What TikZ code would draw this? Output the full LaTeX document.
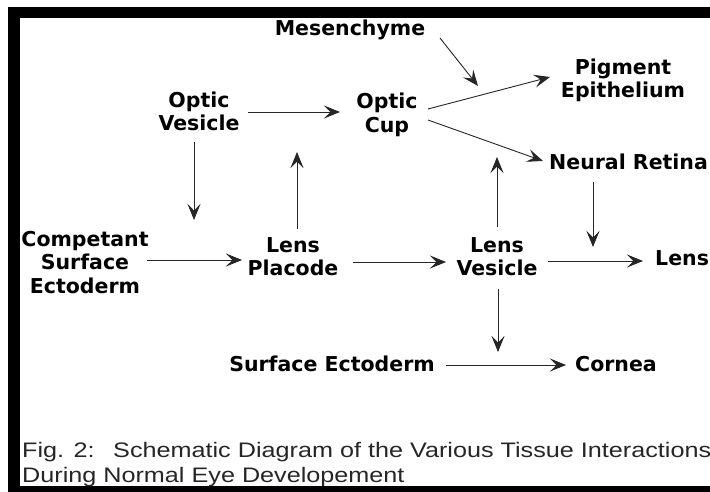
\documentclass[tikz,border=0pt]{standalone}
\usepackage{fontspec}
\setmainfont{DejaVu Sans}
\newfontfamily\capf[FakeStretch=1.2]{Liberation Sans}
\usetikzlibrary{arrows.meta,calc}
\begin{document}
\begin{tikzpicture}[x=1pt,y=-1pt,
  lbl/.style={inner sep=0pt,align=center,font=\bfseries\fontsize{20.5}{23.5}\selectfont,text=black},
  capt/.style={inner sep=0pt,anchor=base west,font=\capf\fontsize{21}{25}\selectfont,text=black!85},
  arr/.style={line width=0.9pt,draw=black!85,-{Stealth[length=16pt,width=13pt,inset=6.5pt]}}]
\useasboundingbox (0,0) rectangle (710,491);
\fill[white] (0,0) rectangle (710,491);
% frame
\fill[black] (8,7) rectangle (730,18);
\fill[black] (8,7) rectangle (20,500);
\fill[black] (8,486) rectangle (730,500);
% nodes
\node[lbl] (mes) at (350,29.6) {Mesenchyme};
\node[lbl] (ov) at (199,111.2) {Optic\\Vesicle};
\node[lbl] (oc) at (387,114.6) {Optic\\Cup};
\node[lbl] (pig) at (623,80.2) {Pigment\\Epithelium};
\node[lbl,anchor=west] (nr) at (549,161.7) {Neural Retina};
\node[lbl] (cse) at (85,262.5) {Competant\\Surface\\Ectoderm};
\node[lbl] (lp) at (293,256.5) {Lens\\Placode};
\node[lbl] (lv) at (497,256.5) {Lens\\Vesicle};
\node[lbl,anchor=west] (lens) at (655,258.5) {Lens};
\node[lbl] (se) at (332,364.2) {Surface Ectoderm};
\node[lbl] (cor) at (616,364.5) {Cornea};
% caption
\node[capt] (cap1) at (22,457) {Fig. 2:};
\node[capt] (cap2) at (113,457) {Schematic Diagram of the Various Tissue Interactions};
\node[capt] (cap3) at (22,482) {During Normal Eye Developement};
% free ends
\coordinate (m1) at (478,86);
\coordinate (c1) at (194,220);
\coordinate (c2) at (297,152);
\coordinate (c3) at (497,157);
\coordinate (c4) at (593,247);
\coordinate (c5) at (498,352);
% connectors
\draw[arr] ($(mes)+(90,8.4)$) -- (m1);
\draw[arr] ($(ov)+(49,0.8)$) -- ($(oc)+(-47,-2.6)$);
\draw[arr] ($(oc)+(41,-5.6)$) -- ($(pig)+(-73,-3.2)$);
\draw[arr] ($(oc)+(41,5.4)$) -- ($(nr.west)+(-6,-0.7)$);
\draw[arr] ($(ov)+(-5,30.8)$) -- (c1);
\draw[arr] ($(lp)+(4,-27.5)$) -- (c2);
\draw[arr] ($(lv)+(0,-29.5)$) -- (c3);
\draw[arr] ($(nr.west)+(44,20.3)$) -- (c4);
\draw[arr] ($(cse)+(62,-2.5)$) -- ($(lp)+(-51,3.5)$);
\draw[arr] ($(lp)+(60,5.5)$) -- ($(lv)+(-51,5.5)$);
\draw[arr] ($(lv)+(51,4.5)$) -- ($(lens.west)+(-12,2.5)$);
\draw[arr] ($(lv)+(1,32.5)$) -- (c5);
\draw[arr] ($(se)+(114,0.8)$) -- ($(cor)+(-50,0.5)$);
\end{tikzpicture}
\end{document}
